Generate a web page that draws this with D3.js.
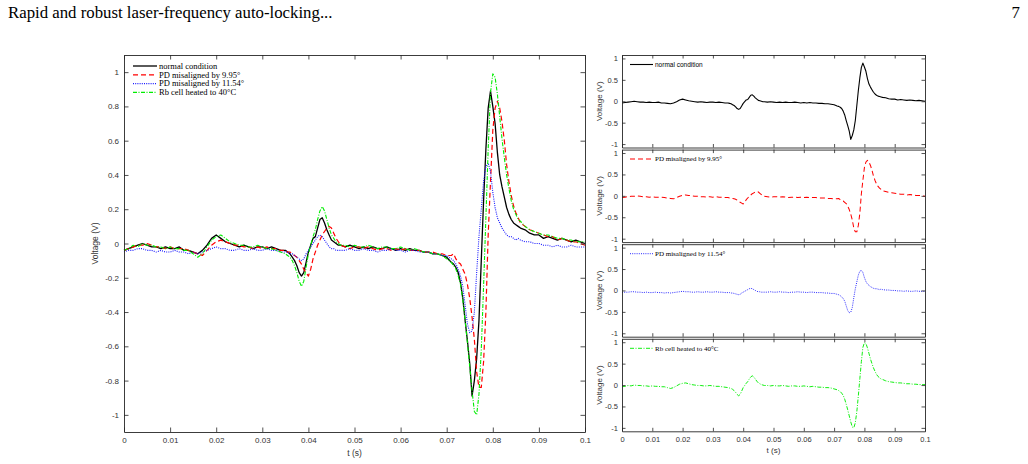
<!DOCTYPE html>
<html>
<head>
<meta charset="utf-8">
<script src="https://cdn.jsdelivr.net/npm/d3@7"></script>
<style>
  body { margin: 0; background: #fff; }
  svg { display: block; }
</style>
</head>
<body>
<svg id="chart" width="1028" height="464"></svg>
<script>
// time samples (s) - finer around the two absorption features
const time = [
  0, .001, .002, .003, .004, .005, .006, .007, .008, .009,
  .010, .011, .012, .013, .014, .015, .016, .017, .018, .019,
  .020, .021, .022, .023, .024, .025, .026, .027, .028, .029,
  .030, .031, .032, .033, .034, .035,
  .0355, .036, .0365, .037, .0375, .038, .0385, .039, .0395, .040, .0405, .041,
  .0415, .042, .0425, .043, .0435, .044, .0445, .045, .0455, .046, .0465, .047,
  .048, .049, .050, .051, .052, .053, .054, .055, .056, .057, .058, .059,
  .060, .061, .062, .063, .064, .065, .066, .067, .068, .069, .070, .071,
  .0715, .072, .0725, .073, .0735, .074, .0745, .075, .0755, .076,
  .0765, .077, .0775, .078, .0785, .079, .0795, .080, .0805, .081,
  .0815, .082, .0825, .083, .0835, .084, .0845, .085, .0855, .086,
  .087, .088, .089, .090, .091, .092, .093, .094, .095, .096, .097, .098, .099, .100
];

// error signal (V)
const normalCondition = [
  -0.04, -0.03, -0.02, -0.01, 0.00, -0.01, -0.02, -0.02, -0.03, -0.02,
  -0.03, -0.03, -0.02, -0.04, -0.04, -0.05, -0.06, -0.04, -0.01, 0.03,
  0.05, 0.03, 0.01, 0.00, -0.01, -0.02, -0.01, -0.02, -0.03, -0.02,
  -0.02, -0.03, -0.02, -0.03, -0.04, -0.04,
  -0.05, -0.06, -0.08, -0.10, -0.13, -0.17, -0.19, -0.17, -0.11, -0.05, -0.01, 0.03,
  0.04, 0.09, 0.14, 0.15, 0.12, 0.08, 0.05, 0.02, 0.01, 0.00, -0.01, -0.01,
  -0.02, -0.01, -0.02, -0.03, -0.02, -0.03, -0.02, -0.03, -0.03, -0.02, -0.03, -0.04,
  -0.03, -0.04, -0.03, -0.04, -0.04, -0.05, -0.05, -0.06, -0.06, -0.07, -0.08, -0.11,
  -0.12, -0.14, -0.17, -0.23, -0.32, -0.45, -0.57, -0.70, -0.89, -0.80,
  -0.67, -0.45, -0.10, 0.25, 0.55, 0.79, 0.89, 0.80, 0.70, 0.53,
  0.40, 0.33, 0.27, 0.21, 0.17, 0.14, 0.12, 0.11, 0.10, 0.09,
  0.08, 0.06, 0.05, 0.05, 0.03, 0.04, 0.03, 0.02, 0.03, 0.02, 0.01, 0.02, 0.01, 0.00
];

const pdMisaligned995 = [
  -0.04, -0.03, -0.02, -0.01, -0.01, 0.00, -0.01, -0.02, -0.02, -0.03,
  -0.02, -0.03, -0.03, -0.03, -0.04, -0.05, -0.06, -0.07, -0.04, -0.01,
  0.01, 0.02, 0.01, 0.00, -0.01, -0.01, -0.02, -0.02, -0.03, -0.02,
  -0.03, -0.02, -0.03, -0.03, -0.04, -0.04,
  -0.05, -0.05, -0.06, -0.07, -0.08, -0.10, -0.12, -0.15, -0.17, -0.19, -0.15, -0.09,
  -0.05, -0.01, 0.02, 0.05, 0.07, 0.09, 0.10, 0.09, 0.06, 0.03, 0.01, -0.01,
  -0.02, -0.03, -0.02, -0.02, -0.03, -0.02, -0.03, -0.04, -0.03, -0.03, -0.04, -0.03,
  -0.04, -0.03, -0.04, -0.04, -0.04, -0.05, -0.05, -0.05, -0.06, -0.06, -0.07, -0.07,
  -0.06, -0.09, -0.11, -0.12, -0.15, -0.18, -0.24, -0.32, -0.43, -0.56,
  -0.75, -0.84, -0.84, -0.69, -0.40, 0.05, 0.36, 0.66, 0.79, 0.83,
  0.79, 0.71, 0.60, 0.46, 0.36, 0.28, 0.22, 0.18, 0.15, 0.12,
  0.10, 0.08, 0.07, 0.06, 0.05, 0.04, 0.04, 0.02, 0.03, 0.02, 0.01, 0.01, 0.00, -0.01
];

const pdMisaligned1154 = [
  -0.05, -0.04, -0.04, -0.03, -0.03, -0.04, -0.04, -0.05, -0.04, -0.05,
  -0.05, -0.04, -0.05, -0.05, -0.06, -0.05, -0.06, -0.05, -0.04, -0.03,
  -0.02, -0.03, -0.03, -0.04, -0.04, -0.03, -0.04, -0.04, -0.03, -0.04,
  -0.04, -0.03, -0.04, -0.04, -0.05, -0.05,
  -0.05, -0.06, -0.06, -0.07, -0.08, -0.09, -0.10, -0.09, -0.06, -0.04, -0.02, 0.00,
  0.02, 0.04, 0.05, 0.04, 0.02, 0.00, -0.02, -0.03, -0.03, -0.04, -0.04, -0.04,
  -0.04, -0.03, -0.04, -0.04, -0.03, -0.04, -0.04, -0.05, -0.04, -0.04, -0.03, -0.04,
  -0.04, -0.05, -0.04, -0.04, -0.05, -0.05, -0.05, -0.06, -0.06, -0.07, -0.07, -0.09,
  -0.10, -0.12, -0.15, -0.19, -0.25, -0.36, -0.47, -0.52, -0.51, -0.40,
  -0.17, 0.04, 0.20, 0.36, 0.45, 0.47, 0.42, 0.30, 0.21, 0.15,
  0.12, 0.09, 0.07, 0.05, 0.04, 0.04, 0.03, 0.02, 0.03, 0.02,
  0.01, 0.01, 0.00, 0.00, -0.01, -0.01, -0.02, -0.01, -0.02, -0.02, -0.01, -0.02, -0.02, -0.02
];

const cellHeated40 = [
  -0.04, -0.03, -0.01, -0.02, 0.00, -0.01, -0.01, -0.02, -0.02, -0.03,
  -0.02, -0.03, -0.03, -0.04, -0.04, -0.06, -0.08, -0.06, -0.02, 0.02,
  0.04, 0.05, 0.03, 0.01, 0.00, -0.01, -0.01, -0.02, -0.02, -0.01,
  -0.02, -0.03, -0.03, -0.04, -0.05, -0.06,
  -0.07, -0.08, -0.10, -0.13, -0.17, -0.22, -0.25, -0.22, -0.14, -0.06, -0.01, 0.04,
  0.08, 0.14, 0.19, 0.215, 0.19, 0.14, 0.09, 0.05, 0.03, 0.01, 0.00, -0.01,
  -0.01, -0.02, -0.01, -0.02, -0.02, -0.01, -0.02, -0.03, -0.02, -0.02, -0.03, -0.03,
  -0.02, -0.03, -0.04, -0.03, -0.04, -0.05, -0.05, -0.06, -0.06, -0.07, -0.09, -0.11,
  -0.13, -0.15, -0.19, -0.24, -0.33, -0.45, -0.58, -0.72, -0.86, -0.98,
  -1.00, -0.88, -0.62, -0.25, 0.15, 0.55, 0.88, 0.99, 0.97, 0.87,
  0.74, 0.61, 0.50, 0.40, 0.32, 0.25, 0.20, 0.17, 0.14, 0.13,
  0.10, 0.08, 0.07, 0.06, 0.05, 0.05, 0.04, 0.03, 0.03, 0.02, 0.02, 0.01, 0.01, 0.01
];

const seriesLabels = ['normal condition', 'PD misaligned by 9.95°', 'PD misaligned by 11.54°', 'Rb cell heated to 40°C'];
const xTicks = [0, 0.01, 0.02, 0.03, 0.04, 0.05, 0.06, 0.07, 0.08, 0.09, 0.1];
const yTicksMain = [-1, -0.8, -0.6, -0.4, -0.2, 0, 0.2, 0.4, 0.6, 0.8, 1];
const yTicksPanel = [-1, -0.5, 0, 0.5, 1];

const allSeries = [normalCondition, pdMisaligned995, pdMisaligned1154, cellHeated40];
allSeries.forEach((s, i) => { if (s.length !== time.length) console.error('length mismatch', i, s.length); });

// line looks, MATLAB style
const looks = [
  { color: '#000000', dash: null, width: 1.3 },
  { color: '#ff0000', dash: '5,3', width: 1.2 },
  { color: '#1a1aff', dash: '1,1.2', width: 1.1 },
  { color: '#00ee00', dash: '4,1.5,1,1.5', width: 1.1 }
];

const svg = d3.select('#chart');
svg.append('rect').attr('width', 1028).attr('height', 464).attr('fill', '#fff');

// page header
svg.append('text').attr('x', 8).attr('y', 18)
  .style('font-family', '"Liberation Serif", "Times New Roman", serif').style('font-size', '16.8px')
  .text('Rapid and robust laser-frequency auto-locking...');
svg.append('text').attr('x', 1020).attr('y', 18).attr('text-anchor', 'end')
  .style('font-family', '"Liberation Serif", "Times New Roman", serif').style('font-size', '16.8px')
  .text('7');

const tickFont = '"Liberation Sans", Arial, sans-serif';
const axisColor = '#262626';

function drawBox(g, x, y, yTicks, opts) {
  const [x0, x1] = x.range();
  const [y1, y0] = y.range();
  const ts = opts.tickSize;
  const fmt = d => String(Math.round(d * 100) / 100);

  const bottom = g.append('g').attr('transform', `translate(0,${y1})`)
    .call(d3.axisBottom(x).tickValues(xTicks).tickSize(-ts).tickSizeOuter(0).tickPadding(5)
      .tickFormat(opts.xLabels ? fmt : ''));
  const top = g.append('g').attr('transform', `translate(0,${y0})`)
    .call(d3.axisTop(x).tickValues(xTicks).tickSize(-ts).tickSizeOuter(0).tickFormat(''));
  const left = g.append('g').attr('transform', `translate(${x0},0)`)
    .call(d3.axisLeft(y).tickValues(yTicks).tickSize(-ts).tickSizeOuter(0).tickPadding(opts.yPad).tickFormat(fmt));
  const right = g.append('g').attr('transform', `translate(${x1},0)`)
    .call(d3.axisRight(y).tickValues(yTicks).tickSize(-ts).tickSizeOuter(0).tickFormat(''));

  [bottom, top, left, right].forEach(a => {
    a.select('.domain').attr('stroke', axisColor).attr('stroke-width', 0.9);
    a.selectAll('.tick line').attr('stroke', axisColor).attr('stroke-width', 0.8);
    a.selectAll('.tick text').attr('fill', '#333').style('font-family', tickFont).style('font-size', opts.fontSize + 'px');
  });
}

function drawLine(g, x, y, values, look) {
  const line = d3.line().x((d, i) => x(time[i])).y(d => y(d));
  g.append('path').datum(values)
    .attr('d', line)
    .attr('fill', 'none')
    .attr('stroke', look.color)
    .attr('stroke-width', look.width)
    .attr('stroke-dasharray', look.dash)
    .attr('stroke-linejoin', 'round');
}

// ---- left: all four traces together ----
const xMain = d3.scaleLinear().domain([0, 0.1]).range([124, 585]);
const yMain = d3.scaleLinear().domain([-1.1, 1.1]).range([432, 55]);
const gMain = svg.append('g');

// draw order: black, red, blue, green on top
allSeries.forEach((s, i) => drawLine(gMain, xMain, yMain, s, looks[i]));
drawBox(gMain, xMain, yMain, yTicksMain, { tickSize: 4.5, xLabels: true, yPad: 5, fontSize: 8 });

gMain.append('text')
  .attr('transform', `translate(98,${(55 + 432) / 2}) rotate(-90)`)
  .attr('text-anchor', 'middle')
  .style('font-family', tickFont).style('font-size', '8.5px').attr('fill', '#333')
  .text('Voltage (V)');
gMain.append('text')
  .attr('x', (124 + 585) / 2).attr('y', 456)
  .attr('text-anchor', 'middle')
  .style('font-family', tickFont).style('font-size', '8.5px').attr('fill', '#333')
  .text('t (s)');

// legend
const legendRows = [66, 74.8, 83.6, 92.4];
seriesLabels.forEach((label, i) => {
  gMain.append('line')
    .attr('x1', 133).attr('x2', 157).attr('y1', legendRows[i]).attr('y2', legendRows[i])
    .attr('stroke', looks[i].color).attr('stroke-width', looks[i].width)
    .attr('stroke-dasharray', looks[i].dash);
  gMain.append('text')
    .attr('x', 159).attr('y', legendRows[i]).attr('dy', '0.33em')
    .style('font-family', '"Liberation Serif", "Times New Roman", serif').style('font-size', '8.5px')
    .text(label);
});

// ---- right: one panel per trace ----
const xPanel = d3.scaleLinear().domain([0, 0.1]).range([622, 925]);
const panelH = 92.5;
allSeries.forEach((s, i) => {
  const top = 55 + i * 94.6;
  const yPanel = d3.scaleLinear().domain([-1.08, 1.08]).range([top + panelH, top]);
  const g = svg.append('g');
  drawLine(g, xPanel, yPanel, s, { ...looks[i], width: looks[i].width * 0.85 });
  drawBox(g, xPanel, yPanel, yTicksPanel, { tickSize: 3.5, xLabels: i === 3, yPad: 4, fontSize: 7.5 });

  g.append('text')
    .attr('transform', `translate(602,${top + panelH / 2}) rotate(-90)`)
    .attr('text-anchor', 'middle')
    .style('font-family', tickFont).style('font-size', '8px').attr('fill', '#333')
    .text('Voltage (V)');

  const ly = top + 9.5;
  g.append('line')
    .attr('x1', 630).attr('x2', 653).attr('y1', ly).attr('y2', ly)
    .attr('stroke', looks[i].color).attr('stroke-width', looks[i].width * 0.85)
    .attr('stroke-dasharray', looks[i].dash);
  g.append('text')
    .attr('x', 655).attr('y', ly).attr('dy', '0.33em')
    .style('font-family', i === 0 ? tickFont : '"Liberation Serif", "Times New Roman", serif')
    .style('font-size', i === 0 ? '6.5px' : '7px')
    .text(seriesLabels[i]);
});

svg.append('text')
  .attr('x', (622 + 925) / 2).attr('y', 453)
  .attr('text-anchor', 'middle')
  .style('font-family', tickFont).style('font-size', '8px').attr('fill', '#333')
  .text('t (s)');
</script>
</body>
</html>
